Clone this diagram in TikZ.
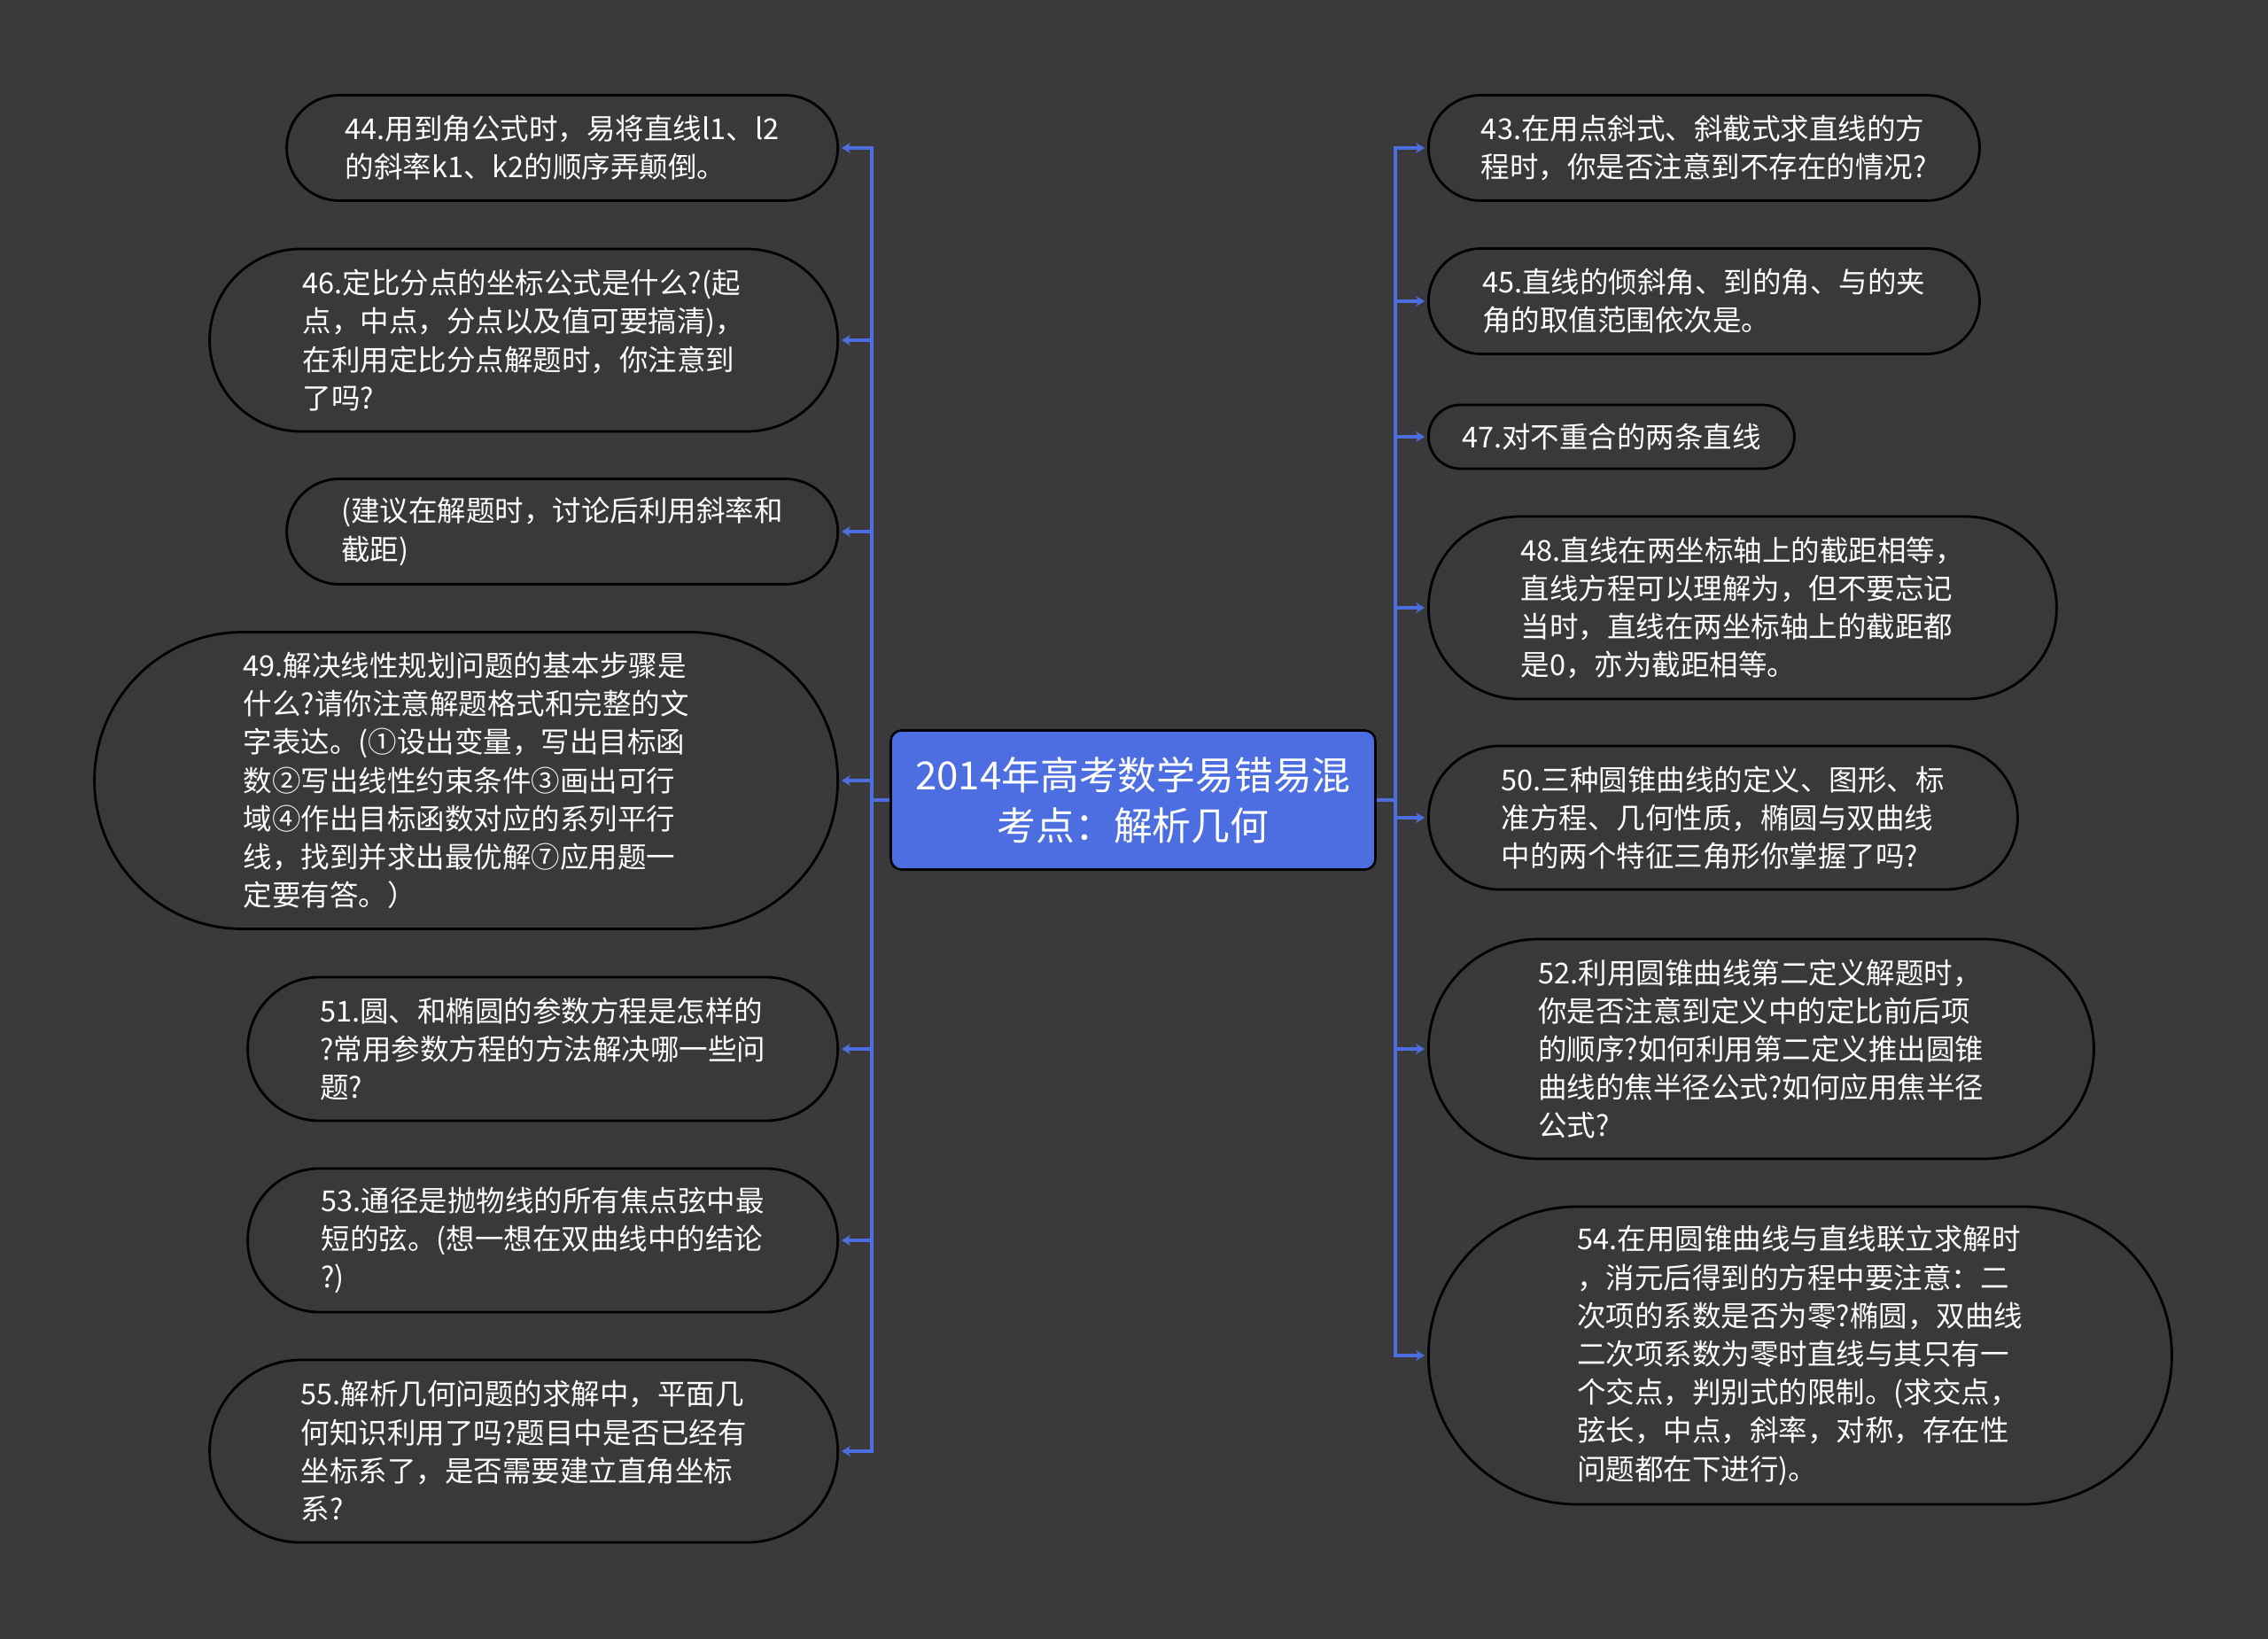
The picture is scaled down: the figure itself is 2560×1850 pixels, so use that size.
\documentclass[tikz,border=0pt]{standalone}
\usepackage{fontspec}
\setmainfont{Noto Sans CJK SC}
\usetikzlibrary{arrows.meta}
\definecolor{bggray}{RGB}{58,58,60}
\definecolor{boxgray}{RGB}{57,57,59}
\definecolor{linkblue}{RGB}{76,110,224}
\newcommand\leaffont{\fontsize{16.25pt}{21.6pt}\selectfont}
\newcommand\rootfont{\fontsize{21.9pt}{28.6pt}\selectfont}
\begin{document}
\begin{tikzpicture}[x=0.5pt, y=-0.5pt,
  leaf/.style 2 args={draw=black, line width=1.4pt, fill=boxgray, text=white, align=left, inner sep=0pt, minimum width=#1, minimum height=#2, rounded corners=0.499*#2, font=\leaffont},
  lroot/.style={draw=black, line width=1.3pt, fill=linkblue, text=white, align=center, minimum width=273.5pt, minimum height=78.5pt, rounded corners=6pt, font=\rootfont},
  link/.style={draw=linkblue, line width=1.8pt, shorten >=1.5pt, -{Stealth[length=5pt, width=6pt]}}]
\fill[bggray] (0,0) rectangle (2560,1850);
\node[lroot] (root) at (1279,903) {2014年高考数学易错易混\\考点：解析几何};
\node[leaf={311pt}{59.5pt}, anchor=east] (n44) at (947,167) {44.用到角公式时，易将直线l1、l2\\的斜率k1、k2的顺序弄颠倒。};
\node[leaf={354.5pt}{103pt}, anchor=east] (n46) at (947,384) {46.定比分点的坐标公式是什么?(起\\点，中点，分点以及值可要搞清)，\\在利用定比分点解题时，你注意到\\了吗?};
\node[leaf={311pt}{59.5pt}, anchor=east] (njy) at (947,600) {(建议在解题时，讨论后利用斜率和\\截距)};
\node[leaf={419.5pt}{167.5pt}, anchor=east] (n49) at (947,881) {49.解决线性规划问题的基本步骤是\\什么?请你注意解题格式和完整的文\\字表达。(①设出变量，写出目标函\\数②写出线性约束条件③画出可行\\域④作出目标函数对应的系列平行\\线，找到并求出最优解⑦应用题一\\定要有答。）};
\node[leaf={333pt}{81pt}, anchor=east] (n51) at (947,1184) {51.圆、和椭圆的参数方程是怎样的\\?常用参数方程的方法解决哪一些问\\题?};
\node[leaf={333pt}{81pt}, anchor=east] (n53) at (947,1400) {53.通径是抛物线的所有焦点弦中最\\短的弦。(想一想在双曲线中的结论\\?)};
\node[leaf={354.5pt}{103pt}, anchor=east] (n55) at (947,1638) {55.解析几何问题的求解中，平面几\\何知识利用了吗?题目中是否已经有\\坐标系了，是否需要建立直角坐标\\系?};
\node[leaf={311pt}{59.5pt}, anchor=west] (n43) at (1611,167) {43.在用点斜式、斜截式求直线的方\\程时，你是否注意到不存在的情况?};
\node[leaf={311pt}{59.5pt}, anchor=west] (n45) at (1611,340) {45.直线的倾斜角、到的角、与的夹\\角的取值范围依次是。};
\node[leaf={206.5pt}{36pt}, anchor=west] (n47) at (1611,493) {47.对不重合的两条直线};
\node[leaf={354.5pt}{103pt}, anchor=west] (n48) at (1611,686) {48.直线在两坐标轴上的截距相等，\\直线方程可以理解为，但不要忘记\\当时，直线在两坐标轴上的截距都\\是0，亦为截距相等。};
\node[leaf={332.5pt}{81pt}, anchor=west] (n50) at (1611,923) {50.三种圆锥曲线的定义、图形、标\\准方程、几何性质，椭圆与双曲线\\中的两个特征三角形你掌握了吗?};
\node[leaf={375.5pt}{124pt}, anchor=west] (n52) at (1611,1184) {52.利用圆锥曲线第二定义解题时，\\你是否注意到定义中的定比前后项\\的顺序?如何利用第二定义推出圆锥\\曲线的焦半径公式?如何应用焦半径\\公式?};
\node[leaf={419.5pt}{168pt}, anchor=west] (n54) at (1611,1530) {54.在用圆锥曲线与直线联立求解时\\，消元后得到的方程中要注意：二\\次项的系数是否为零?椭圆，双曲线\\二次项系数为零时直线与其只有一\\个交点，判别式的限制。(求交点，\\弦长，中点，斜率，对称，存在性\\问题都在下进行)。};
\foreach \n in {n44,n46,njy,n49,n51,n53,n55}
  \draw[link] (root.west) -- ++(-20,0) |- (\n.east);
\foreach \n in {n43,n45,n47,n48,n50,n52,n54}
  \draw[link] (root.east) -- ++(21,0) |- (\n.west);
\end{tikzpicture}
\end{document}
